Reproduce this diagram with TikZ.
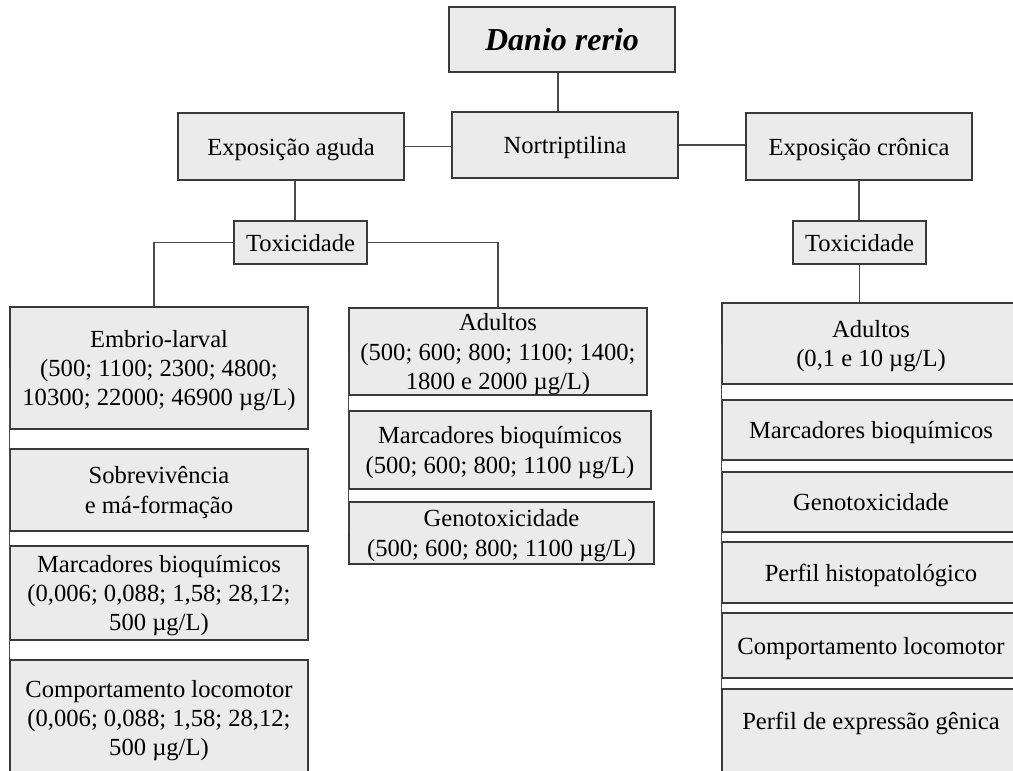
\documentclass[tikz,border=0pt]{standalone}
\usepackage{fontspec}
\setmainfont{Liberation Serif}
\definecolor{boxfill}{HTML}{EBEBEB}
\definecolor{boxline}{HTML}{3A3A3A}
\definecolor{linkline}{HTML}{4A4A4A}
\tikzset{
  box/.style={draw=boxline,fill=boxfill,line width=0.7pt,align=center,inner sep=0pt,
    text depth=0pt,font=\fontsize{12.3}{14.6}\selectfont},
  link/.style={draw=linkline,line width=0.75pt}
}
\begin{document}
\begin{tikzpicture}[x=0.5pt,y=-0.5pt]
    \useasboundingbox (0,0) rectangle (1013,771);
    % top row
    \node[box,minimum width=113pt,minimum height=32.5pt,font=\fontsize{16}{19}\selectfont\bfseries\itshape] (dr) at (562,39.5) {Danio rerio};
    \node[box,minimum width=113pt,minimum height=33pt] (nt) at (565,145) {Nortriptilina};
    \node[box,minimum width=113pt,minimum height=33.5pt] (ea) at (291,146.5) {Exposição aguda};
    \node[box,minimum width=113pt,minimum height=33.5pt] (ec) at (859,146.5) {Exposição crônica};
    \node[box,minimum width=66.5pt,minimum height=21.5pt] (ta) at (300.5,242.5) {Toxicidade};
    \node[box,minimum width=66.5pt,minimum height=21.5pt] (tc) at (859.5,242.5) {Toxicidade};
    % acute, embryo-larval
    \node[box,minimum width=149pt,minimum height=61pt] (el) at (159,368) {Embrio-larval\\(500; 1100; 2300; 4800;\\10300; 22000; 46900 µg/L)};
    \node[box,minimum width=149pt,minimum height=41pt] (sm) at (159,490) {Sobrevivência\\e má-formação};
    \node[box,minimum width=149pt,minimum height=47pt] (mbl) at (159,593) {Marcadores bioquímicos\\(0,006; 0,088; 1,58; 28,12;\\500 µg/L)};
    \node[box,minimum width=149pt,minimum height=58pt] (cll) at (159,718) {Comportamento locomotor\\(0,006; 0,088; 1,58; 28,12;\\500 µg/L)};
    % acute, adults
    \node[box,minimum width=149pt,minimum height=43.5pt] (aa) at (498,351.5) {Adultos\\(500; 600; 800; 1100; 1400;\\1800 e 2000 µg/L)};
    \node[box,minimum width=151pt,minimum height=39pt] (mba) at (500,450) {Marcadores bioquímicos\\(500; 600; 800; 1100 µg/L)};
    \node[box,minimum width=152.5pt,minimum height=31pt] (gta) at (501.5,533) {Genotoxicidade\\(500; 600; 800; 1100 µg/L)};
    % chronic, adults
    \node[box,minimum width=149pt,minimum height=40.5pt] (ac) at (871,343.5) {Adultos\\(0,1 e 10 µg/L)};
    \node[box,minimum width=149pt,minimum height=30pt] (mbc) at (871,430) {Marcadores bioquímicos};
    \node[box,minimum width=149pt,minimum height=30pt] (gtc) at (871,502) {Genotoxicidade};
    \node[box,minimum width=149pt,minimum height=30.5pt] (hpc) at (871,572.5) {Perfil histopatológico};
    \node[box,minimum width=149pt,minimum height=32.5pt] (clc) at (871,645.5) {Comportamento locomotor};
    \node[box,minimum width=149pt,minimum height=55.5pt,text depth=24pt] (pec) at (871,744.5) {Perfil de expressão gênica};
    % connectors
    \draw[link] ([xshift=-2pt]dr.south)--([xshift=-2pt]dr.south |- nt.north);
    \draw[link] (ea.east)--(ea.east -| nt.west) (nt.east)--(nt.east -| ec.west);
    \draw[link] ([xshift=2pt]ea.south)--([xshift=2pt]ea.south |- ta.north) (ec.south)--(ec.south |- tc.north);
    \draw[link] (ta.west) -| ([xshift=-2.5pt]el.north);
    \draw[link] (ta.east) -| (aa.north);
    \draw[link] (tc.south)--(tc.south |- ac.north);
    \draw[link] (el.west)--(cll.north west);
    \draw[link] (aa.west)--(gta.west);
    \draw[link] (ac.west)--(pec.north west);
\end{tikzpicture}
\end{document}
